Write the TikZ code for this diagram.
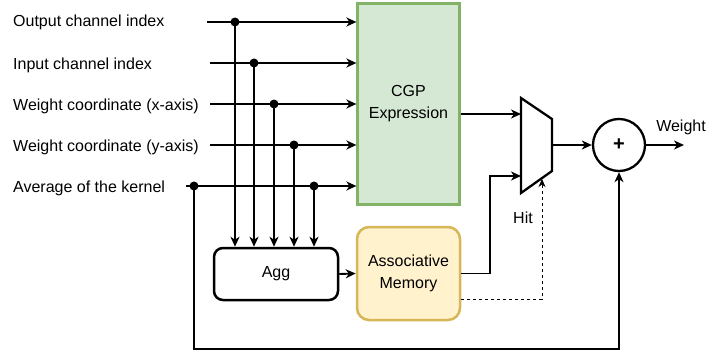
\documentclass[tikz,border=0pt]{standalone}
\usepackage{fontspec}
\setmainfont{Liberation Sans}
\usetikzlibrary{arrows.meta,calc}
\definecolor{cgpfill}{HTML}{D5E8D4}
\definecolor{cgpdraw}{HTML}{82B366}
\definecolor{memfill}{HTML}{FFF2CC}
\definecolor{memdraw}{HTML}{D6B656}
\begin{document}
\begin{tikzpicture}[x=1pt,y=-1pt,
  font=\fontsize{16}{22}\selectfont,
  wire/.style={line width=1.9pt,-{Stealth[length=10pt,width=9pt,inset=3pt]}},
  dashwire/.style={line width=0.9pt,dash pattern=on 3pt off 3pt,-{Stealth[length=8pt,width=7pt,inset=2.5pt]}},
  lbl/.style={anchor=west,inner sep=0pt},
  dot/.style={circle,fill=black,inner sep=0pt,minimum size=9pt},
  cgpbox/.style={draw=cgpdraw,fill=cgpfill,line width=2.2pt,align=center,inner sep=0pt},
  membox/.style={draw=memdraw,fill=memfill,line width=2.5pt,rounded corners=12pt,align=center,inner sep=0pt},
  aggbox/.style={draw=black,fill=white,line width=2.5pt,rounded corners=9pt,inner sep=0pt},
  addbox/.style={draw=black,circle,line width=2.3pt,minimum size=52pt,inner sep=0pt}]
\useasboundingbox (0,0) rectangle (706,353);

% labels
\node[lbl] (l1) at (13,22) {Output channel index};
\node[lbl] (l2) at (13,65) {Input channel index};
\node[lbl] (l3) at (13,106) {Weight coordinate (x-axis)};
\node[lbl] (l4) at (13,147) {Weight coordinate (y-axis)};
\node[lbl] (l5) at (13,188) {Average of the kernel};

% boxes
\node[cgpbox,minimum width=102pt,minimum height=201pt] (cgp) at (408.5,104) {CGP\\Expression};
\node[aggbox,minimum width=124pt,minimum height=52pt] (agg) at (276,274) {Agg};
\node[membox,minimum width=103pt,minimum height=93pt] (mem) at (408.5,273.5) {Associative\\Memory};
\node[addbox] (add) at (619,145) {\fontsize{20}{20}\selectfont\textbf{+}};

% mux
\coordinate (mA) at (521,98);
\coordinate (mB) at (552,119);
\coordinate (mC) at (552,171);
\coordinate (mD) at (521,193);
\draw[line width=2.3pt,line join=miter] (mA) -- (mB) -- (mC) -- (mD) -- cycle;
\coordinate (muxin1) at (521,114);
\coordinate (muxin2) at (521,176);
\coordinate (muxout) at (552,145);
\coordinate (muxsel) at (542,179);

% input wire starts
\coordinate (s1) at (207,22);
\coordinate (s2) at (210,63);
\coordinate (s3) at (210,104);
\coordinate (s4) at (210,145);
\coordinate (s5) at (186,186);
% junction dots
\coordinate (d1) at (235,22);
\coordinate (d2) at (254,63);
\coordinate (d3) at (274,104);
\coordinate (d4) at (294,145);
\coordinate (d5) at (314,186);
\coordinate (d0) at (194,186);

\foreach \i in {1,...,5}{
  \draw[wire] (s\i) -- (s\i -| cgp.west);
}
\foreach \i in {1,...,5}{
  \draw[wire] (d\i) -- (d\i |- agg.north);
}
\foreach \i in {0,...,5}{
  \node[dot] at (d\i) {};
}

% feedback loop
\coordinate (loopc) at (194,349);
\draw[wire] (d0) -- (loopc) -| (add.south);

% agg to memory
\draw[wire] (agg.east) -- (mem.west);

% cgp to mux
\draw[wire] (cgp.east |- muxin1) -- (muxin1);
% memory to mux
\coordinate (bend) at (490,273.5);
\draw[wire] (mem.east) -- (bend) |- (muxin2);
% hit dashed
\coordinate (hitc) at (542,299);
\draw[dashwire] (mem.east |- hitc) -- (hitc) -- (muxsel);
\node (hit) at (523,218) {Hit};

% mux to adder
\draw[wire] (muxout) -- (add.west);
% output
\coordinate (out) at (684,145);
\draw[wire] (add.east) -- (out);
\node (wl) at (681,127) {Weight};
\end{tikzpicture}
\end{document}
